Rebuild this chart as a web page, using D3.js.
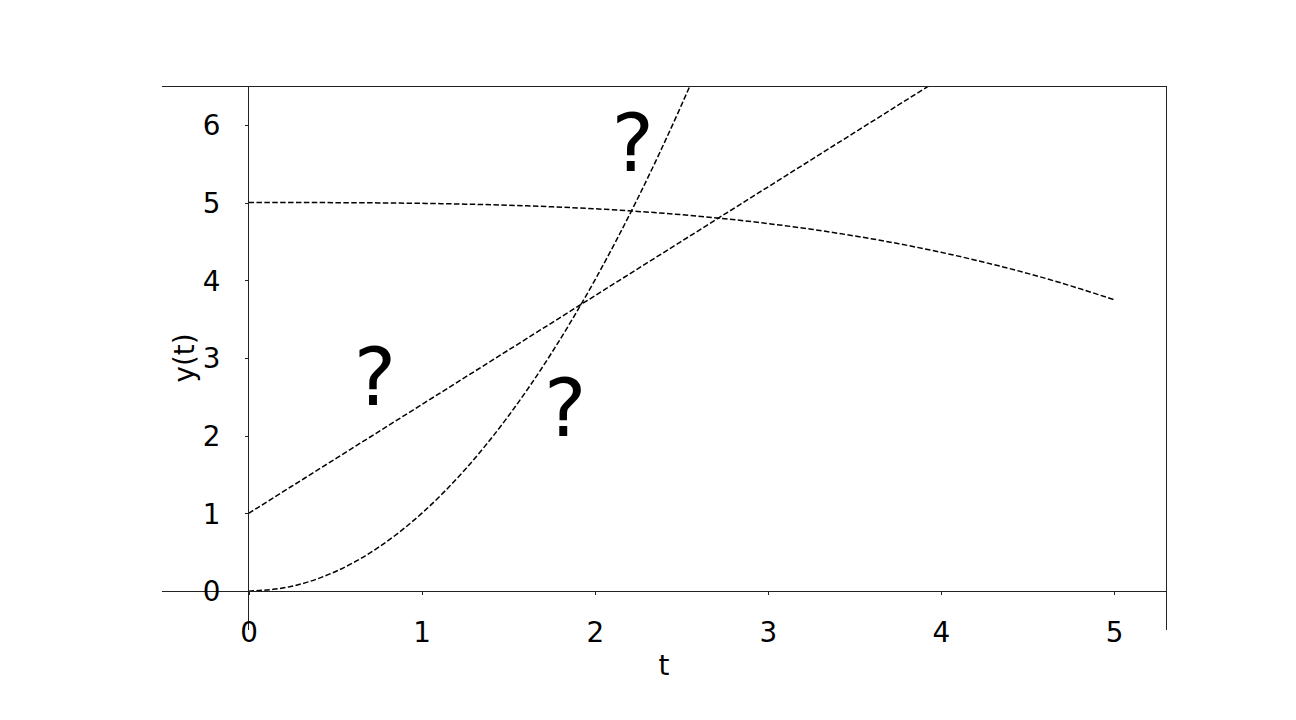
<!DOCTYPE html>
<html>
<head>
<meta charset="utf-8">
<script src="https://cdn.jsdelivr.net/npm/d3@7"></script>
<style>
  html, body { margin: 0; padding: 0; background: #fff; }
  svg { display: block; }
  text { font-family: "DejaVu Sans", sans-serif; fill: #000; }
</style>
</head>
<body>
<svg id="chart" width="1296" height="720"></svg>
<script>
// ---- data ----
const tValues = [0, 0.25, 0.5, 0.75, 1, 1.25, 1.5, 1.75, 2, 2.25, 2.5, 2.75, 3, 3.25, 3.5, 3.75, 4, 4.25, 4.5, 4.75, 5];
const quadraticSeries = [0, 0.0625, 0.25, 0.5625, 1, 1.5625, 2.25, 3.0625, 4, 5.0625, 6.25, 7.5625, 9, 10.5625, 12.25, 14.0625, 16, 18.0625, 20.25, 22.5625, 25];
const linearSeries = [1, 1.35, 1.7, 2.05, 2.4, 2.75, 3.1, 3.45, 3.8, 4.15, 4.5, 4.85, 5.2, 5.55, 5.9, 6.25, 6.6, 6.95, 7.3, 7.65, 8];
const cubicSeries = [5, 5.0, 4.999, 4.996, 4.99, 4.98, 4.966, 4.946, 4.92, 4.886, 4.844, 4.792, 4.73, 4.657, 4.571, 4.473, 4.36, 4.232, 4.089, 3.928, 3.75];
const xTicks = [0, 1, 2, 3, 4, 5];
const yTicks = [0, 1, 2, 3, 4, 5, 6];
const markLabels = ["?", "?", "?"];
const markT = [2.22, 0.73, 1.83];
const markY = [5.4, 2.4, 2.0];
const xLabel = "t";
const yLabel = "y(t)";

// ---- layout ----
const svg = d3.select("#chart");
const L = 162, R = 1166, T = 86, B = 630;
const x = d3.scaleLinear().domain([-0.5, 5.3]).range([L, R]);
const y = d3.scaleLinear().domain([-0.5, 6.5]).range([B, T]);

svg.append("defs").append("clipPath").attr("id", "clip")
  .append("rect").attr("x", L).attr("y", T).attr("width", R - L).attr("height", B - T);

// curves
const line = d3.line().x(d => x(d[0])).y(d => y(d[1])).curve(d3.curveMonotoneX);
function series(vals) {
  return tValues.map((t, i) => [t, vals[i]]);
}
const g = svg.append("g").attr("clip-path", "url(#clip)");
[quadraticSeries, linearSeries, cubicSeries].forEach(vals => {
  g.append("path")
    .attr("d", line(series(vals)))
    .attr("fill", "none")
    .attr("stroke", "#000")
    .attr("stroke-width", 1.5)
    .attr("stroke-dasharray", "5.5,2.4");
});

// spines
function addLine(x1, y1, x2, y2) {
  svg.append("line").attr("x1", x1).attr("y1", y1).attr("x2", x2).attr("y2", y2)
    .attr("stroke", "#222").attr("stroke-width", 1).attr("shape-rendering", "crispEdges");
}
addLine(L, T, R, T);           // top
addLine(R, T, R, B);           // right
addLine(x(0), T, x(0), B);     // left spine at x=0
addLine(L, y(0), R, y(0));     // bottom spine at y=0

// x axis at y=0
const xAxis = d3.axisBottom(x).tickValues(xTicks).tickFormat(d3.format("d")).tickSize(4);
const xg = svg.append("g").attr("transform", `translate(0,${y(0)})`).call(xAxis);
xg.select(".domain").remove();
xg.selectAll("line").attr("stroke", "#222").attr("stroke-width", 1).attr("shape-rendering", "crispEdges");
xg.selectAll("text").attr("font-size", null).style("font-size", "27.8px").style("font-family", "DejaVu Sans").attr("y", 31).attr("dy", "0.71em");

// y axis at x=0
const yAxis = d3.axisLeft(y).tickValues(yTicks).tickFormat(d3.format("d")).tickSize(4);
const yg = svg.append("g").attr("transform", `translate(${x(0)},0)`).call(yAxis);
yg.select(".domain").remove();
yg.selectAll("line").attr("stroke", "#222").attr("stroke-width", 1).attr("shape-rendering", "crispEdges");
yg.selectAll("text").style("font-size", "27.8px").style("font-family", "DejaVu Sans").attr("x", -28).attr("dy", "0.35em");

// axis labels
svg.append("text").attr("x", (L + R) / 2).attr("y", 675).attr("text-anchor", "middle")
  .style("font-size", "27.8px").text(xLabel);
svg.append("text").attr("transform", `translate(194,${(T + B) / 2}) rotate(-90)`).attr("text-anchor", "middle")
  .style("font-size", "27.8px").text(yLabel);

// question marks
markLabels.forEach((s, i) => {
  svg.append("text").attr("x", x(markT[i])).attr("y", y(markY[i])).attr("text-anchor", "middle")
    .style("font-size", "80px").text(s);
});
</script>
</body>
</html>
